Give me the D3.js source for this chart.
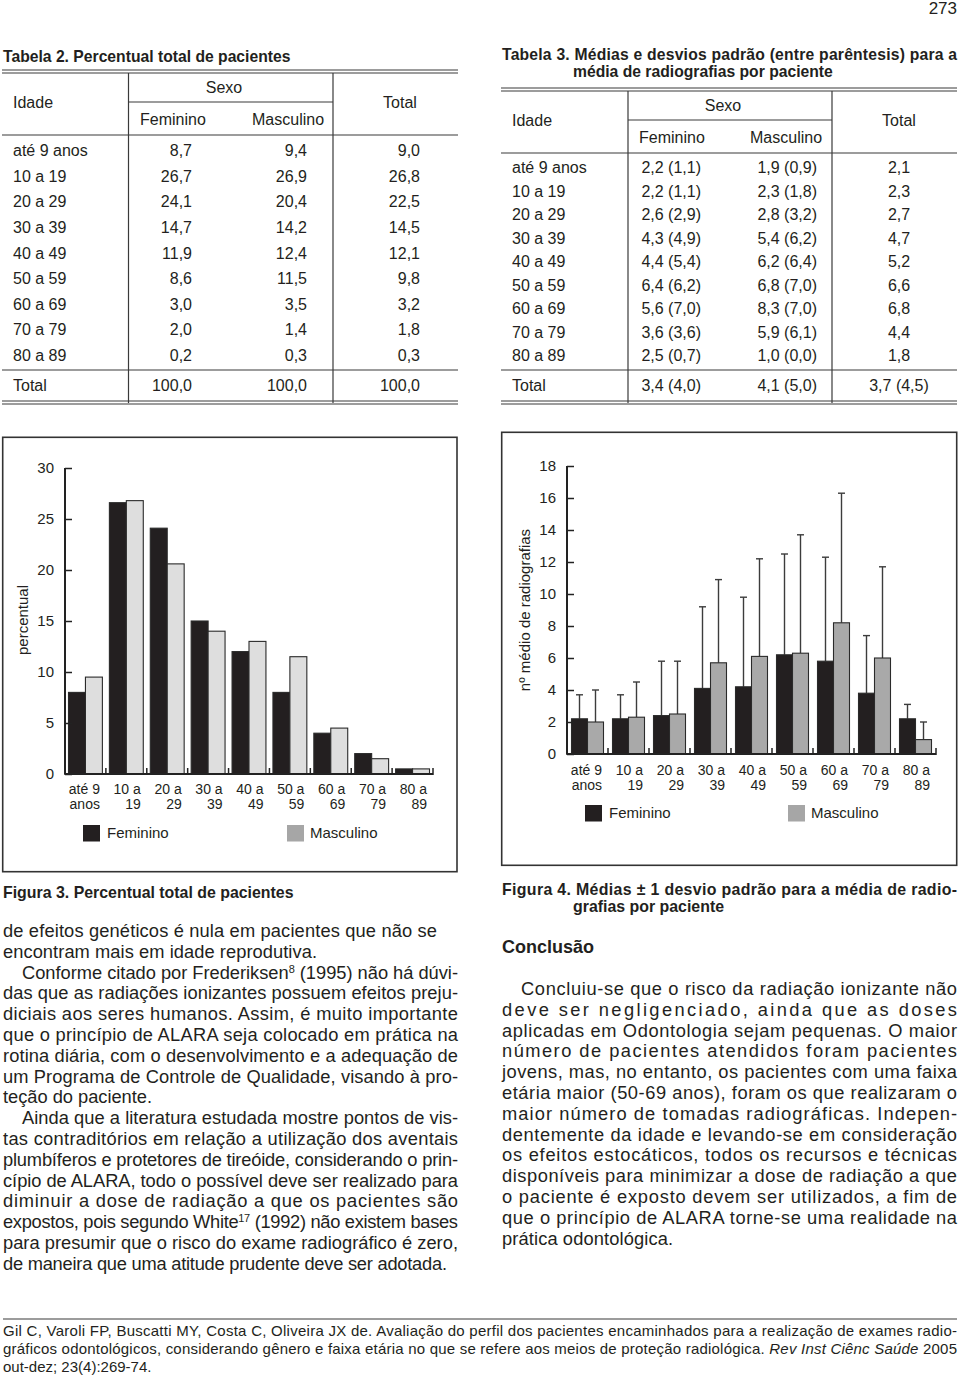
<!DOCTYPE html>
<html><head><meta charset="utf-8">
<script src="https://cdn.jsdelivr.net/npm/d3@7"></script>
<style>
html,body{margin:0;padding:0;background:#fff;}
svg{display:block;font-family:"Liberation Sans",Arial,Helvetica,sans-serif;}
</style></head>
<body>
<script>
// ---------------- DATA ----------------
const ageGroups = ["até 9 anos","10 a 19","20 a 29","30 a 39","40 a 49","50 a 59","60 a 69","70 a 79","80 a 89"];
const axisLabels = [["até 9","anos"],["10 a","19"],["20 a","29"],["30 a","39"],["40 a","49"],["50 a","59"],["60 a","69"],["70 a","79"],["80 a","89"]];
const series = ["Feminino","Masculino"];

// Tabela 2
const tab2Fem   = ["8,7","26,7","24,1","14,7","11,9","8,6","3,0","2,0","0,2"];
const tab2Masc  = ["9,4","26,9","20,4","14,2","12,4","11,5","3,5","1,4","0,3"];
const tab2Total = ["9,0","26,8","22,5","14,5","12,1","9,8","3,2","1,8","0,3"];
const tab2Sum   = ["100,0","100,0","100,0"];

// Tabela 3
const tab3Fem   = ["2,2 (1,1)","2,2 (1,1)","2,6 (2,9)","4,3 (4,9)","4,4 (5,4)","6,4 (6,2)","5,6 (7,0)","3,6 (3,6)","2,5 (0,7)"];
const tab3Masc  = ["1,9 (0,9)","2,3 (1,8)","2,8 (3,2)","5,4 (6,2)","6,2 (6,4)","6,8 (7,0)","8,3 (7,0)","5,9 (6,1)","1,0 (0,0)"];
const tab3Total = ["2,1","2,3","2,7","4,7","5,2","6,6","6,8","4,4","1,8"];
const tab3Sum   = ["3,4 (4,0)","4,1 (5,0)","3,7 (4,5)"];

// Figura 3 (values as drawn)
const fig3Fem  = [8.0,26.6,24.1,15.0,12.0,8.0,4.0,2.0,0.5];
const fig3Masc = [9.5,26.8,20.6,14.0,13.0,11.5,4.5,1.5,0.5];
const fig3Ticks = [0,5,10,15,20,25,30];

// Figura 4 (means and SDs as drawn)
const fig4FemMean  = [2.2,2.2,2.4,4.1,4.2,6.2,5.8,3.8,2.2];
const fig4FemSd    = [1.5,1.5,3.4,5.1,5.6,6.3,6.5,3.6,0.9];
const fig4MascMean = [2.0,2.3,2.5,5.7,6.1,6.3,8.2,6.0,0.9];
const fig4MascSd   = [2.0,2.2,3.3,5.2,6.1,7.4,8.1,5.7,1.1];
const fig4Ticks = [0,2,4,6,8,10,12,14,16,18];

// Text
const bodyLeft = [
 {t:"de efeitos genéticos é nula em pacientes que não se", w:434},
 {t:"encontram mais em idade reprodutiva.", w:314},
 {t:["Conforme citado por Frederiksen",{sup:"8"}," (1995) não há dúvi-"], j:true, ind:true},
 {t:"das que as radiações ionizantes possuem efeitos preju-", j:true},
 {t:"diciais aos seres humanos. Assim, é muito importante", j:true},
 {t:"que o princípio de ALARA seja colocado em prática na", j:true},
 {t:"rotina diária, com o desenvolvimento e a adequação de", j:true},
 {t:"um Programa de Controle de Qualidade, visando à pro-", j:true},
 {t:"teção do paciente.", w:149},
 {t:"Ainda que a literatura estudada mostre pontos de vis-", j:true, ind:true},
 {t:"tas contraditórios em relação a utilização dos aventais", j:true},
 {t:"plumbíferos e protetores de tireóide, considerando o prin-", j:true},
 {t:"cípio de ALARA, todo o possível deve ser realizado para", j:true},
 {t:"diminuir a dose de radiação a que os pacientes são", j:true},
 {t:["expostos, pois segundo White",{sup:"17"}," (1992) não existem bases"], j:true},
 {t:"para presumir que o risco do exame radiográfico é zero,", j:true},
 {t:"de maneira que uma atitude prudente deve ser adotada.", w:444}
];
const bodyRight = [
 {t:"Concluiu-se que o risco da radiação ionizante não", j:true, ind:true},
 {t:"deve ser negligenciado, ainda que as doses", j:true},
 {t:"aplicadas em Odontologia sejam pequenas. O maior", j:true},
 {t:"número de pacientes atendidos foram pacientes", j:true},
 {t:"jovens, mas, no entanto, os pacientes com uma faixa", j:true},
 {t:"etária maior (50-69 anos), foram os que realizaram o", j:true},
 {t:"maior número de tomadas radiográficas. Indepen-", j:true},
 {t:"dentemente da idade e levando-se em consideração", j:true},
 {t:"os efeitos estocáticos, todos os recursos e técnicas", j:true},
 {t:"disponíveis para minimizar a dose de radiação a que", j:true},
 {t:"o paciente é exposto devem ser utilizados, a fim de", j:true},
 {t:"que o princípio de ALARA torne-se uma realidade na", j:true},
 {t:"prática odontológica.", w:171}
];

// ---------------- DRAW ----------------
const INK = "#231f20", RULE = "#3a3a3a";
const svg = d3.select("body").append("svg").attr("width",960).attr("height",1385);

function txt(g, x, y, s, o={}) {
  const t = g.append("text").attr("x",x).attr("y",y)
    .attr("fill", o.fill||INK).attr("font-size", o.size||16)
    .attr("font-weight", o.bold?"bold":"normal")
    .attr("text-anchor", o.anchor||"start");
  if (Array.isArray(s)) {
    s.forEach(p => {
      if (typeof p === "string") t.append("tspan").text(p);
      else if (p.sup) t.append("tspan").attr("font-size", (o.size||16)*0.6).attr("baseline-shift","super").text(p.sup);
      else if (p.it) t.append("tspan").attr("font-style","italic").text(p.it);
    });
  } else t.text(s);
  if (o.len) t.attr("textLength", o.len).attr("lengthAdjust","spacing");
  return t;
}
function hline(g,x1,x2,y,w){ g.append("line").attr("x1",x1).attr("x2",x2).attr("y1",y).attr("y2",y).attr("stroke",RULE).attr("stroke-width",w||1.2); }
function vline(g,x,y1,y2,w){ g.append("line").attr("x1",x).attr("x2",x).attr("y1",y1).attr("y2",y2).attr("stroke",RULE).attr("stroke-width",w||1.2); }

// page number
txt(svg, 957, 14, "273", {size:17, anchor:"end"});

// ----- Tabela 2 -----
{
  const g = svg.append("g");
  txt(g, 3, 62, "Tabela 2. Percentual total de pacientes", {bold:true, size:15.7});
  hline(g,2,458,70); hline(g,2,458,73);
  vline(g,128.5,73,403); vline(g,333,73,403);
  hline(g,128.5,333,102); hline(g,2,458,135); hline(g,2,458,370);
  hline(g,2,458,401); hline(g,2,458,404);
  txt(g,13,108,"Idade"); txt(g,224,93,"Sexo",{anchor:"middle"}); txt(g,400,108,"Total",{anchor:"middle"});
  txt(g,140,125,"Feminino"); txt(g,252,125,"Masculino");
  const rowY = d3.scaleLinear().domain([0,8]).range([156,361]);
  ageGroups.forEach((a,i)=>{
    const y = rowY(i);
    txt(g,13,y,a); txt(g,192,y,tab2Fem[i],{anchor:"end"});
    txt(g,307,y,tab2Masc[i],{anchor:"end"}); txt(g,420,y,tab2Total[i],{anchor:"end"});
  });
  txt(g,13,391,"Total"); txt(g,192,391,tab2Sum[0],{anchor:"end"});
  txt(g,307,391,tab2Sum[1],{anchor:"end"}); txt(g,420,391,tab2Sum[2],{anchor:"end"});
}

// ----- Tabela 3 -----
{
  const g = svg.append("g");
  txt(g, 502, 60, "Tabela 3. Médias e desvios padrão (entre parêntesis) para a", {bold:true, size:15.7, len:455});
  txt(g, 573, 77, "média de radiografias por paciente", {bold:true, size:15.7});
  hline(g,501,957,88); hline(g,501,957,91);
  vline(g,628,91,403); vline(g,832,91,403);
  hline(g,628,832,120); hline(g,501,957,153); hline(g,501,957,370);
  hline(g,501,957,401); hline(g,501,957,404);
  txt(g,512,126,"Idade"); txt(g,723,111,"Sexo",{anchor:"middle"}); txt(g,899,126,"Total",{anchor:"middle"});
  txt(g,639,143,"Feminino"); txt(g,750,143,"Masculino");
  const rowY = d3.scaleLinear().domain([0,8]).range([173,361]);
  ageGroups.forEach((a,i)=>{
    const y = rowY(i);
    txt(g,512,y,a); txt(g,701,y,tab3Fem[i],{anchor:"end"});
    txt(g,817,y,tab3Masc[i],{anchor:"end"}); txt(g,899,y,tab3Total[i],{anchor:"middle"});
  });
  txt(g,512,391,"Total"); txt(g,701,391,tab3Sum[0],{anchor:"end"});
  txt(g,817,391,tab3Sum[1],{anchor:"end"}); txt(g,899,391,tab3Sum[2],{anchor:"middle"});
}

// ----- chart helper -----
function barChart(cfg) {
  const g = svg.append("g");
  g.append("rect").attr("x",cfg.box[0]).attr("y",cfg.box[1]).attr("width",cfg.box[2]).attr("height",cfg.box[3])
    .attr("fill","none").attr("stroke","#333").attr("stroke-width",1.6);
  const x = d3.scaleBand().domain(d3.range(ageGroups.length)).range([cfg.x0,cfg.x1]);
  const xs = d3.scaleBand().domain(series).range([cfg.inset, x.bandwidth()-cfg.inset]);
  const y = d3.scaleLinear().domain([0,cfg.max]).range([cfg.y0,cfg.y1]);

  const data = [];
  ageGroups.forEach((a,i)=>{
    data.push({i, s:"Feminino", v:cfg.fem[i], sd: cfg.femSd?cfg.femSd[i]:null});
    data.push({i, s:"Masculino", v:cfg.masc[i], sd: cfg.mascSd?cfg.mascSd[i]:null});
  });
  if (cfg.femSd) {
    const eb = g.append("g").attr("stroke","#3c3c3c").attr("stroke-width",1.4);
    data.forEach(d=>{
      const cx = x(d.i)+xs(d.s)+xs.bandwidth()/2;
      eb.append("line").attr("x1",cx).attr("x2",cx).attr("y1",y(d.v)).attr("y2",y(d.v+d.sd));
      eb.append("line").attr("x1",cx-3.5).attr("x2",cx+3.5).attr("y1",y(d.v+d.sd)).attr("y2",y(d.v+d.sd));
    });
  }
  g.append("g").selectAll("rect").data(data).join("rect")
    .attr("x",d=>x(d.i)+xs(d.s)).attr("width",xs.bandwidth())
    .attr("y",d=>y(d.v)).attr("height",d=>y(0)-y(d.v))
    .attr("fill",d=>d.s==="Feminino"?"#231f20":cfg.mascFill)
    .attr("stroke","#2a2a2a").attr("stroke-width",1.1);

  const ya = d3.axisLeft(y).tickValues(cfg.ticks).tickSize(-7).tickSizeOuter(0).tickPadding(11);
  const yg = g.append("g").attr("transform",`translate(${cfg.x0},0)`).call(ya);
  yg.select(".domain").remove();
  yg.selectAll(".tick line").attr("stroke","#222").attr("stroke-width",1.5);
  yg.selectAll(".tick text").attr("font-size",15).attr("fill",INK).attr("font-family",null);
  g.append("line").attr("x1",cfg.x0).attr("x2",cfg.x0).attr("y1",y(cfg.max)).attr("y2",y(0)+0.7).attr("stroke","#222").attr("stroke-width",2);
  g.append("line").attr("x1",cfg.x0).attr("x2",cfg.x1).attr("y1",y(0)).attr("y2",y(0)).attr("stroke","#222").attr("stroke-width",2);
  ageGroups.forEach((a,i)=>{
    const bx = x(i)+x.bandwidth();
    g.append("line").attr("x1",bx).attr("x2",bx).attr("y1",y(0)-6).attr("y2",y(0)+1).attr("stroke","#222").attr("stroke-width",1.5);
    const cx = x(i)+x.bandwidth()/2 + 14.5;
    txt(g,cx,cfg.lab1,axisLabels[i][0],{size:14,anchor:"end"});
    txt(g,cx,cfg.lab1+14.5,axisLabels[i][1],{size:14,anchor:"end"});
  });
  txt(g,0,0,cfg.ylabel,{size:15,anchor:"middle"}).attr("transform",`translate(${cfg.ylx},${cfg.yly}) rotate(-90)`);
  const lg = g.append("g");
  lg.append("rect").attr("x",cfg.leg[0]).attr("y",cfg.leg[2]).attr("width",17).attr("height",16.5).attr("fill","#231f20");
  lg.append("rect").attr("x",cfg.leg[1]).attr("y",cfg.leg[2]).attr("width",17).attr("height",16.5).attr("fill","#a6a6a6");
  txt(lg,cfg.leg[0]+24,cfg.leg[2]+12.5,series[0],{size:15});
  txt(lg,cfg.leg[1]+23,cfg.leg[2]+12.5,series[1],{size:15});
}

barChart({box:[2.7,437.3,454.3,434.4], x0:65, x1:433, y0:774, y1:468, max:30, ticks:fig3Ticks,
  fem:fig3Fem, masc:fig3Masc, mascFill:"#dedede", inset:3.5, lab1:794,
  ylabel:"percentual", ylx:28, yly:620, leg:[83,287,825]});

barChart({box:[501.7,432.3,455,433], x0:567, x1:936, y0:754, y1:466, max:18, ticks:fig4Ticks,
  fem:fig4FemMean, masc:fig4MascMean, femSd:fig4FemSd, mascSd:fig4MascSd, mascFill:"#a9a9a9", inset:4.5, lab1:775,
  ylabel:"nº médio de radiografias", ylx:530, yly:610, leg:[585,788,805]});

// ----- captions -----
txt(svg,3,898,"Figura 3. Percentual total de pacientes",{bold:true,size:15.9});
txt(svg,502,895,"Figura 4. Médias ± 1 desvio padrão para a média de radio-",{bold:true,size:15.9,len:455});
txt(svg,573,912,"grafias por paciente",{bold:true,size:15.9});

// ----- body text -----
function paragraph(lines, x0, x1, y0, step, indent) {
  lines.forEach((l,i)=>{
    const xs = l.ind ? x0+indent : x0;
    txt(svg, xs, y0+i*step, l.t, {size:18.3, len: l.j ? (x1-xs) : (l.w||null)});
  });
}
paragraph(bodyLeft, 3, 458, 937, 20.8, 19);
txt(svg,502,953,"Conclusão",{bold:true,size:18});
paragraph(bodyRight, 502, 957, 995, 20.8, 19);

// ----- footer -----
hline(svg,3,957,1319,1.2);
txt(svg,3,1336,"Gil C, Varoli FP, Buscatti MY, Costa C, Oliveira JX de. Avaliação do perfil dos pacientes encaminhados para a realização de exames radio-",{size:15,len:954});
txt(svg,3,1354,["gráficos odontológicos, considerando gênero e faixa etária no que se refere aos meios de proteção radiológica. ",{it:"Rev Inst Ciênc Saúde"}," 2005"],{size:15,len:954});
txt(svg,3,1372,"out-dez; 23(4):269-74.",{size:15});
</script>
</body></html>
